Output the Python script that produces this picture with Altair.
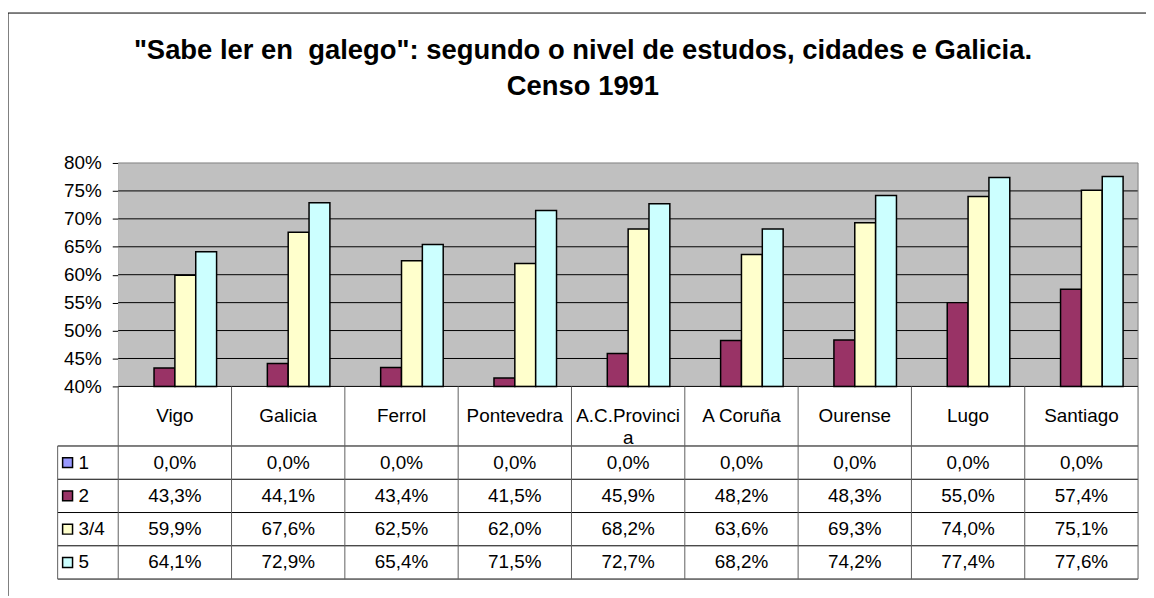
import altair as alt
import pandas as pd

# ---------------- data ----------------
categories = ["Vigo", "Galicia", "Ferrol", "Pontevedra", "A.C.Provincia",
              "A Coruña", "Ourense", "Lugo", "Santiago"]
header_labels = ["Vigo", "Galicia", "Ferrol", "Pontevedra", "A.C.Provinci\na",
                 "A Coruña", "Ourense", "Lugo", "Santiago"]
series = ["1", "2", "3/4", "5"]
s1 = [0.0, 0.0, 0.0, 0.0, 0.0, 0.0, 0.0, 0.0, 0.0]
s2 = [43.3, 44.1, 43.4, 41.5, 45.9, 48.2, 48.3, 55.0, 57.4]
s34 = [59.9, 67.6, 62.5, 62.0, 68.2, 63.6, 69.3, 74.0, 75.1]
s5 = [64.1, 72.9, 65.4, 71.5, 72.7, 68.2, 74.2, 77.4, 77.6]
colors = ["#9999FF", "#993366", "#FFFFCC", "#CCFFFF"]
y_ticks = [0.40, 0.45, 0.50, 0.55, 0.60, 0.65, 0.70, 0.75, 0.80]
title_lines = ['"Sabe ler en\u00a0 galego": segundo o nivel de estudos, cidades e Galicia.',
               "Censo 1991"]

rows = []
for s, vals in zip(series, [s1, s2, s34, s5]):
    for c, v in zip(categories, vals):
        rows.append({"cat": c, "series": s, "value": v / 100.0,
                     "label": f"{v:.1f}".replace(".", ",") + "%"})
df = pd.DataFrame(rows)
df_header = pd.DataFrame({"cat": categories, "label": header_labels})
df_series = pd.DataFrame({"series": series})
df_grid = pd.DataFrame({"t": y_ticks[1:-1]})
dummy = pd.DataFrame({"a": [0]})

# ---------------- layout ----------------
W = 1027          # plot / table width
PH = 225          # bar plot height
HH = 60           # header row height
RH = 33.5         # table row height
H = PH + HH + 4 * RH
LEG = 61          # legend column width
PAD = {"left": 111, "top": 154, "right": 8, "bottom": 17}
FONT = "Liberation Sans"
FS = 19

xs = alt.Scale(domain=categories, paddingInner=0.264, paddingOuter=0.132)
ys = alt.Scale(domain=[0.4, 0.8], range=[PH, 0], clamp=True)
rs = alt.Scale(type="point", domain=series, range=[PH + HH + RH / 2, H - RH / 2], padding=0)
cs = alt.Scale(domain=series, range=colors)

layers = []

# plot background
layers.append(alt.Chart(dummy).mark_rect(color="#C0C0C0").encode(
    x=alt.value(0), x2=alt.value(W), y=alt.value(0), y2=alt.value(PH)))

# gridlines
layers.append(alt.Chart(df_grid).mark_rule(color="black", strokeWidth=1).encode(
    y=alt.Y("t:Q", scale=ys, axis=None), x=alt.value(0), x2=alt.value(W)))

# bars
layers.append(alt.Chart(df).transform_filter("datum.value > 0.4").mark_bar(
    stroke="black", strokeWidth=1.5).encode(
    x=alt.X("cat:N", scale=xs, axis=None, sort=categories),
    xOffset=alt.XOffset("series:N", scale=alt.Scale(domain=series, paddingInner=0, paddingOuter=0)),
    y=alt.Y("value:Q", scale=ys, title=None,
            axis=alt.Axis(values=y_ticks, format=".0%", grid=False, labelFont=FONT,
                          labelFontSize=FS, labelColor="black", tickColor="black",
                          tickSize=6, labelPadding=11, domainColor="#808080")),
    y2=alt.datum(0.4),
    color=alt.Color("series:N", scale=cs, legend=None),
))

# plot border (top / right)
layers.append(alt.Chart(dummy).mark_rule(color="#808080").encode(
    x=alt.value(0), x2=alt.value(W), y=alt.value(0)))
layers.append(alt.Chart(dummy).mark_rule(color="#808080").encode(
    x=alt.value(W), y=alt.value(0), y2=alt.value(PH)))

# table lines
hy = [PH + HH + i * RH for i in range(5)]
layers.append(alt.Chart(dummy).mark_rule(color="black").encode(
    x=alt.value(0), x2=alt.value(W), y=alt.value(PH)))
for yy in hy:
    layers.append(alt.Chart(dummy).mark_rule(color="black").encode(
        x=alt.value(-LEG), x2=alt.value(W), y=alt.value(yy)))
step = W / len(categories)
for i in range(len(categories) + 1):
    layers.append(alt.Chart(dummy).mark_rule(color="#606060").encode(
        x=alt.value(i * step), y=alt.value(PH), y2=alt.value(H)))
layers.append(alt.Chart(dummy).mark_rule(color="#606060").encode(
    x=alt.value(-LEG), y=alt.value(PH + HH), y2=alt.value(H)))

# header texts
layers.append(alt.Chart(df_header).mark_text(
    font=FONT, fontSize=FS, color="black", baseline="middle", lineBreak="\n",
    lineHeight=22).encode(
    x=alt.X("cat:N", scale=xs, axis=None, sort=categories),
    y=alt.value(PH + HH / 2),
    text="label:N"))

# table values
layers.append(alt.Chart(df).mark_text(
    font=FONT, fontSize=FS, color="black", baseline="middle").encode(
    x=alt.X("cat:N", scale=xs, axis=None, sort=categories),
    y=alt.Y("series:N", scale=rs, axis=None),
    text="label:N"))

# legend keys in table
layers.append(alt.Chart(df_series).mark_square(
    size=100, stroke="black", strokeWidth=1.5, opacity=1).encode(
    x=alt.value(-51),
    y=alt.Y("series:N", scale=rs, axis=None),
    color=alt.Color("series:N", scale=cs, legend=None)))
layers.append(alt.Chart(df_series).mark_text(
    font=FONT, fontSize=FS, color="black", align="left", baseline="middle").encode(
    x=alt.value(-40),
    y=alt.Y("series:N", scale=rs, axis=None),
    text="series:N"))

# title
layers.append(alt.Chart(dummy).mark_text(
    text=title_lines, font=FONT, fontSize=27.6, fontWeight="bold", color="black",
    align="center", baseline="alphabetic", lineHeight=36).encode(
    x=alt.value(468), y=alt.value(-104.7)))

# outer frame
layers.append(alt.Chart(dummy).mark_rule(color="black").encode(
    x=alt.value(-111), x2=alt.value(W + 8), y=alt.value(-151)))
layers.append(alt.Chart(dummy).mark_rule(color="black").encode(
    x=alt.value(-111), y=alt.value(-151), y2=alt.value(H + 17)))

chart = alt.layer(*layers).resolve_scale(y="independent").properties(
    width=W, height=H, padding=PAD,
    autosize=alt.AutoSizeParams(type="none"),
).configure_view(stroke="transparent")

chart.save("out.html", embed_options={"renderer": "svg", "actions": False})
